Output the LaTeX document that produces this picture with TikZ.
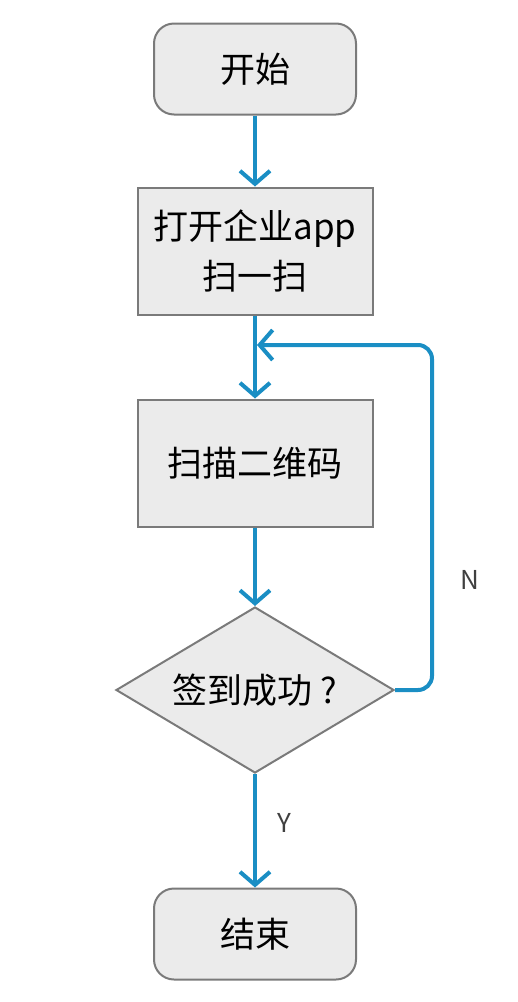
\documentclass[tikz,border=0pt]{standalone}
\usepackage{fontspec}
\setmainfont{Noto Sans CJK SC}
\usetikzlibrary{positioning}
\usetikzlibrary{shapes.geometric}
\usetikzlibrary{arrows.meta}
\definecolor{boxfill}{HTML}{EBEBEB}
\definecolor{boxline}{HTML}{7A7A7A}
\definecolor{flowblue}{HTML}{1A8EC4}
\tikzset{
  base/.style={draw=boxline,line width=2pt,fill=boxfill,align=center,
    font=\fontsize{35}{50}\selectfont,inner sep=0pt},
  terminal/.style={base,rounded corners=20pt,minimum width=202pt,minimum height=91pt},
  process/.style={base,minimum width=235pt,minimum height=127pt},
  decision/.style={base,diamond,aspect=1.67,minimum width=278pt,minimum height=166pt},
  flow/.style={draw=flowblue,line width=4pt,-{Straight Barb[length=13pt,width=30pt]}},
  tag/.style={font=\fontsize{26}{30}\selectfont,text=black!75}
}
\begin{document}
\begin{tikzpicture}[x=1pt,y=-1pt]
    \useasboundingbox (0,0) rectangle (518,1002); % page size
    \node[terminal] (start) at (255,69) {开始};
    \node[process] (open) at (255,251) {打开企业app\\扫一扫};
    \node[process] (scan) at (255,463) {扫描二维码};
    \node[decision] (check) at (255,690) {签到成功\ ?};
    \node[terminal] (stop) at (255,934) {结束};
    \coordinate (back) at (432,345); % corner of the loop
    \coordinate (join) at (257,345);
    \draw[flow] (start) -- (open);
    \draw[flow] (open) -- (scan);
    \draw[flow] (scan) -- (check);
    \draw[flow] (check) -- (stop);
    \draw[flow,rounded corners=14pt] (check.east) -| (back) -- (join);
    \node[tag] (no) at (470,580) {N};
    \node[tag] (yes) at (284,823) {Y};
\end{tikzpicture}
\end{document}
